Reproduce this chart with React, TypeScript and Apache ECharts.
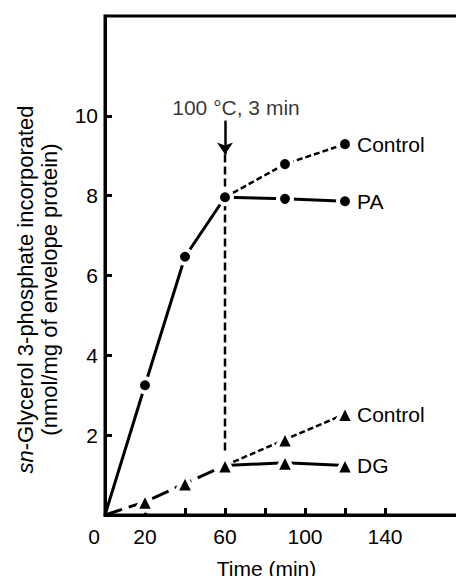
import React, { useEffect, useRef } from "react";
import * as echarts from "echarts";

const FONT = "'Liberation Sans', Arial, Helvetica, sans-serif";

// Time points (min)
const riseTime = [0, 20, 40, 60];
const afterTime = [60, 90, 120];

// Circles: sn-glycerol 3-phosphate incorporation (PA)
const circleRise = [0, 3.25, 6.47, 7.96];
const circleControl = [7.96, 8.79, 9.29];
const circlePA = [7.96, 7.92, 7.86];

// Triangles: DG
const triRise = [0, 0.33, 0.79, 1.24];
const triControl = [1.24, 1.89, 2.53];
const triDG = [1.24, 1.31, 1.24];

// Heat treatment marker
const heatTime = 60;
const heatArrow = [9.88, 9.03];
const heatDash = [9.03, 1.6];
const heatLabel = "100 °C, 3 min";
const heatLabelPos = [65.5, 10.22];

const xTicks = [20, 40, 60, 80, 100, 120, 140];
const xLabels = [0, 20, 60, 100, 140];
const yTicks = [2, 4, 6, 8, 10];

const zip = (xs: number[], ys: number[]) => xs.map((x, i) => [x, ys[i]]);

export default function App() {
  const ref = useRef<HTMLDivElement>(null);
  useEffect(() => {
    if (!ref.current) return;
    const chart = echarts.init(ref.current, undefined, { renderer: "svg" });
    const labelStyle = { color: "#000", fontFamily: FONT, fontSize: 21 };
    const titleStyle = { color: "#000", fontFamily: FONT, fontSize: 22, lineHeight: 24 };
    const lineBase = (data: number[][], type: any, width: number, label?: string) => ({
      type: "line",
      data,
      showSymbol: false,
      symbol: "none",
      silent: true,
      z: 2,
      lineStyle: { color: "#000", width, type },
      endLabel: label
        ? { show: true, formatter: label, distance: 12, ...labelStyle }
        : { show: false },
    });
    const circles = [
      ...zip(riseTime, circleRise).slice(1),
      ...zip(afterTime, circleControl).slice(1),
      ...zip(afterTime, circlePA).slice(1),
    ];
    const triangles = [
      ...zip(riseTime, triRise).slice(1),
      ...zip(afterTime, triControl).slice(1),
      ...zip(afterTime, triDG).slice(1),
    ];
    chart.setOption({
      animation: false,
      grid: {
        left: 105,
        top: 16,
        right: 1,
        bottom: 64,
        show: true,
        borderColor: "#000",
        borderWidth: 3,
      },
      xAxis: {
        type: "value",
        min: 0,
        max: 179,
        name: "Time (min)",
        nameLocation: "middle",
        nameGap: 43,
        nameTextStyle: { ...labelStyle, padding: [0, 35, 0, 0] },
        axisLine: { lineStyle: { color: "#000", width: 3 } },
        axisTick: {
          show: true,
          inside: true,
          length: 7,
          customValues: xTicks,
          lineStyle: { color: "#000", width: 3 },
        },
        axisLabel: {
          customValues: xLabels,
          margin: 11,
          ...labelStyle,
          formatter: (v: number) => (v === 0 ? "{z|0}" : String(v)),
          rich: { z: { ...labelStyle, padding: [0, 22, 0, 0] } },
        },
        splitLine: { show: false },
      },
      yAxis: {
        type: "value",
        min: 0,
        max: 12.5,
        name:
          "{i|sn}{n|-Glycerol 3-phosphate incorporated}\n{n|(nmol/mg of envelope protein)}",
        nameLocation: "middle",
        nameRotate: 90,
        nameGap: 44,
        nameTextStyle: {
          ...titleStyle,
          padding: [0, 48, 0, 0],
          rich: {
            i: { ...titleStyle, fontStyle: "italic" },
            n: { ...titleStyle },
          },
        },
        axisLine: { lineStyle: { color: "#000", width: 3 } },
        axisTick: {
          show: true,
          inside: true,
          length: 7,
          customValues: yTicks,
          lineStyle: { color: "#000", width: 3 },
        },
        axisLabel: { customValues: yTicks, margin: 7, ...labelStyle },
        splitLine: { show: false },
      },
      series: [
        {
          ...lineBase(
            [
              [heatTime, heatDash[0]],
              [heatTime, heatDash[1]],
            ],
            [8, 4],
            2.5
          ),
          markLine: {
            silent: true,
            symbol: ["none", "arrow"],
            symbolSize: 12,
            label: { show: false },
            lineStyle: { color: "#000", width: 2.5, type: "solid" },
            data: [
              [
                { coord: [heatTime, heatArrow[0]] },
                { coord: [heatTime, heatArrow[1]] },
              ],
            ],
          },
        },
        lineBase(zip(riseTime, circleRise), "solid", 3),
        lineBase(zip(afterTime, circleControl), [6, 3], 2.5, "Control"),
        lineBase(zip(afterTime, circlePA), "solid", 3, "PA"),
        lineBase(zip(riseTime, triRise), [18, 7], 3),
        lineBase(zip(afterTime, triControl), [6, 3], 2.5, "Control"),
        lineBase(zip(afterTime, triDG), "solid", 3, "DG"),
        {
          type: "scatter",
          data: circles,
          symbol: "circle",
          symbolSize: 14,
          z: 5,
          silent: true,
          itemStyle: { color: "#000", borderColor: "#fff", borderWidth: 4, opacity: 1 },
        },
        {
          type: "scatter",
          data: triangles,
          symbol: "triangle",
          symbolSize: 18,
          z: 5,
          silent: true,
          itemStyle: { color: "#000", borderColor: "#fff", borderWidth: 4, opacity: 1 },
        },
        {
          type: "scatter",
          data: [heatLabelPos],
          symbolSize: 0,
          silent: true,
          z: 6,
          label: {
            show: true,
            position: "inside",
            formatter: heatLabel,
            ...labelStyle,
          },
        },
      ],
    });
    return () => chart.dispose();
  }, []);
  return <div ref={ref} style={{ width: 464, height: 584, margin: -8 }} />;
}
